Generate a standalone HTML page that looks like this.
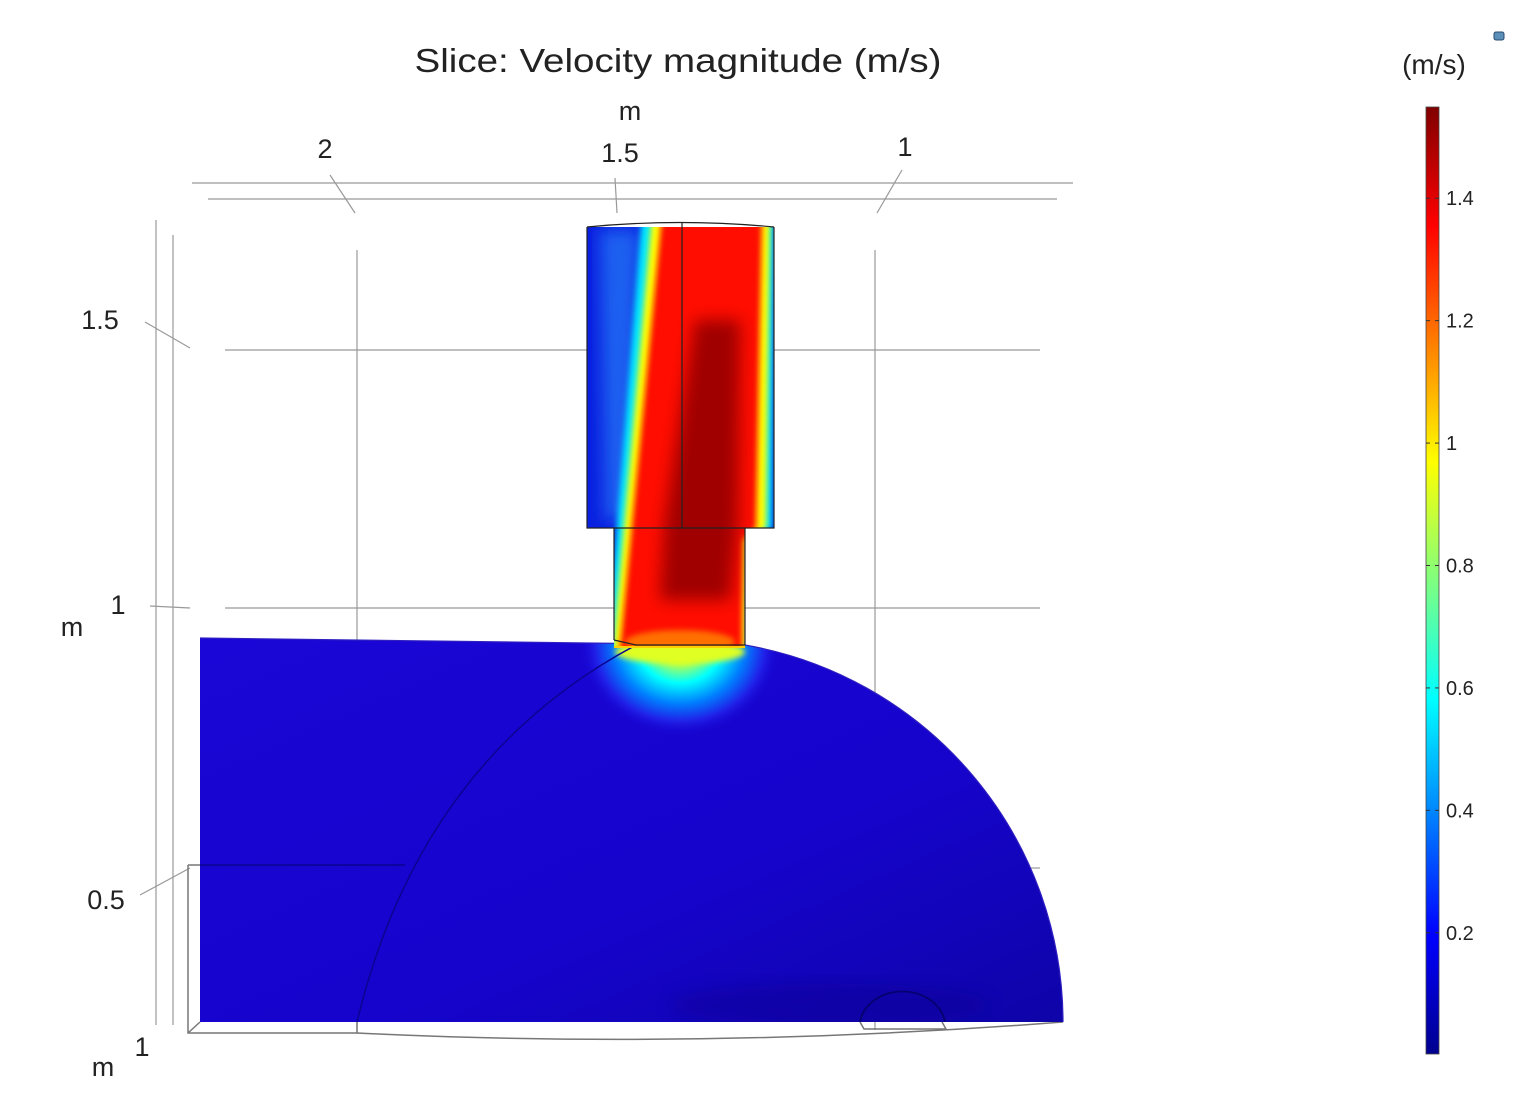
<!DOCTYPE html>
<html><head><meta charset="utf-8"><style>
html,body{margin:0;padding:0;background:#fff;}
svg{display:block;font-family:"Liberation Sans","DejaVu Sans",sans-serif;}
</style></head><body>
<svg id="chart" width="1533" height="1100" viewBox="0 0 1533 1100">
<defs>
  <linearGradient id="jet" x1="0" y1="1" x2="0" y2="0">
    <stop offset="0" stop-color="#00008f"/>
    <stop offset="0.125" stop-color="#0000ff"/>
    <stop offset="0.375" stop-color="#00ffff"/>
    <stop offset="0.625" stop-color="#ffff00"/>
    <stop offset="0.875" stop-color="#ff0000"/>
    <stop offset="1" stop-color="#800000"/>
  </linearGradient>
  <radialGradient id="glow" cx="680" cy="645" r="100" gradientUnits="userSpaceOnUse" gradientTransform="translate(680 645) scale(1 0.9) translate(-680 -645)">
    <stop offset="0" stop-color="#ffff00"/>
    <stop offset="0.2" stop-color="#c0ff40"/>
    <stop offset="0.42" stop-color="#00ffff"/>
    <stop offset="0.65" stop-color="#0080ff"/>
    <stop offset="0.85" stop-color="#2020e8"/>
    <stop offset="1" stop-color="#1a08d8" stop-opacity="0"/>
  </radialGradient>
  <linearGradient id="bodyShade" x1="0" y1="0" x2="1" y2="1">
    <stop offset="0" stop-color="#1a06d6"/>
    <stop offset="0.6" stop-color="#1604cc"/>
    <stop offset="1" stop-color="#0e04a8"/>
  </linearGradient>
  <clipPath id="pipeClip">
    <path d="M587 227 L774 227 L774 528 L745 528 L745 648 L614 648 L614 528 L587 528 Z"/>
  </clipPath>
  <clipPath id="bodyClip">
    <path d="M200 638 L745 645 A383 383 0 0 1 1063 1022 L200 1022 Z"/>
  </clipPath>
  <filter id="blur8" x="-20%" y="-20%" width="140%" height="140%"><feGaussianBlur stdDeviation="8"/></filter>
  <filter id="blur3" x="-20%" y="-20%" width="140%" height="140%"><feGaussianBlur stdDeviation="3"/></filter>
</defs>

<text x="678" y="72" font-size="33" text-anchor="middle" textLength="527" lengthAdjust="spacingAndGlyphs" fill="#222">Slice: Velocity magnitude (m/s)</text>

<g stroke="#999" stroke-width="1.2" fill="none">
  <line x1="192" y1="183" x2="1073" y2="183"/>
  <line x1="208" y1="199" x2="1057" y2="199"/>
  <line x1="156" y1="220" x2="156" y2="1025"/>
  <line x1="173" y1="235" x2="173" y2="1025"/>
  <line x1="225" y1="350" x2="1040" y2="350"/>
  <line x1="225" y1="608" x2="1040" y2="608"/>
  <line x1="1030" y1="868" x2="1040" y2="868"/>
  <line x1="357" y1="250" x2="357" y2="1030"/>
  <line x1="875" y1="250" x2="875" y2="1030"/>
  <line x1="330" y1="175" x2="355" y2="213"/>
  <line x1="615" y1="178" x2="617" y2="213"/>
  <line x1="902" y1="170" x2="877" y2="213"/>
  <line x1="145" y1="322" x2="190" y2="348"/>
  <line x1="150" y1="606" x2="190" y2="608"/>
  <line x1="140" y1="895" x2="190" y2="868"/>
</g>
<g font-size="27" fill="#222">
  <text x="630" y="120" text-anchor="middle">m</text>
  <text x="325" y="158" text-anchor="middle">2</text>
  <text x="620" y="162" text-anchor="middle">1.5</text>
  <text x="905" y="156" text-anchor="middle">1</text>
  <text x="100" y="329" text-anchor="middle">1.5</text>
  <text x="118" y="614" text-anchor="middle">1</text>
  <text x="72" y="636" text-anchor="middle">m</text>
  <text x="106" y="909" text-anchor="middle">0.5</text>
  <text x="142" y="1056" text-anchor="middle">1</text>
  <text x="103" y="1076" text-anchor="middle">m</text>
</g>

<g stroke="#777" stroke-width="1.5" fill="none">
  <path d="M188 865 L188 1033 L357 1033 L357 1022"/>
  <line x1="188" y1="1033" x2="200" y2="1022"/>
  <path d="M357 1033 Q700 1050 1063 1022"/>
  <path d="M860 1022 L864 1029 L946 1029 L942 1022"/>
  <line x1="188" y1="865" x2="200" y2="865"/>
</g>

<g>
  <path d="M200 638 L745 645 A383 383 0 0 1 1063 1022 L200 1022 Z" fill="url(#bodyShade)"/>
  <g clip-path="url(#bodyClip)">
    <ellipse cx="830" cy="1005" rx="160" ry="22" fill="#0a0290" opacity="0.4" filter="url(#blur8)"/>
    <ellipse cx="680" cy="645" rx="100" ry="90" fill="url(#glow)"/>
    <ellipse cx="680" cy="652" rx="65" ry="12" fill="#e0ff20" filter="url(#blur3)"/>
    <path d="M200 865 L405 865" stroke="#0a0490" stroke-width="1.5"/>
    <path d="M636 645 Q420 760 357 1022" stroke="#0a0490" stroke-width="1.5" fill="none"/>
    <path d="M860 1022 A43 36 0 0 1 945 1022" stroke="#050270" stroke-width="1.8" fill="none"/>
  </g>
  <path d="M200 638 L745 645 A383 383 0 0 1 1063 1022" fill="none" stroke="#3020c0" stroke-width="1.2"/>
</g>

<g>
  <g clip-path="url(#pipeClip)">
    <rect x="580" y="220" width="200" height="440" fill="#0a20e0"/>
    <polygon points="600,230 640,230 628,520 605,520" fill="#1a60f0" filter="url(#blur8)"/>
    <polygon points="642,215 774,215 772,528 750,540 748,660 606,660" fill="#00e8ff" filter="url(#blur3)"/>
    <polygon points="652,215 770,215 766,528 747,540 746,660 612,660" fill="#ffff00" filter="url(#blur3)"/>
    <polygon points="662,215 762,215 756,528 743,540 742,660 619,660" fill="#ff1000" filter="url(#blur3)"/>
    <polygon points="695,320 740,320 738,520 730,600 660,600 665,520" fill="#a00000" filter="url(#blur8)"/>
    <ellipse cx="680" cy="642" rx="55" ry="12" fill="#ff7000" filter="url(#blur3)"/>
    <rect x="614" y="646" width="131" height="4" fill="#ffd000"/>
  </g>
  <g stroke="#222" stroke-width="1.2" fill="none">
    <path d="M587 227 L587 528 L774 528 L774 227"/>
    <path d="M587 227 Q680 218 774 227"/>
    <line x1="682" y1="222" x2="682" y2="528"/>
    <path d="M614 528 L614 640 M745 528 L745 645"/>
    <path d="M614 640 L636 645 L745 645"/>
  </g>
</g>

<text x="1434" y="74" font-size="28" text-anchor="middle" fill="#222">(m/s)</text>
<rect x="1494" y="32" width="10" height="8" rx="2" fill="#5a8fb8" stroke="#2a4a70"/>
<rect id="cbar" x="1426" y="107" width="13" height="947" fill="url(#jet)" stroke="#444" stroke-width="0.8"/>
<g id="cticks"></g>

<script>
const tickValues = [0.2, 0.4, 0.6, 0.8, 1.0, 1.2, 1.4];
const tickLabels = ["0.2", "0.4", "0.6", "0.8", "1", "1.2", "1.4"];
const colorMin = 0.002;
const colorMax = 1.549;
const cbTop = 107, cbBottom = 1054;
function yScale(v){ return cbBottom - (v - colorMin) / (colorMax - colorMin) * (cbBottom - cbTop); }
const g = document.getElementById('cticks');
const NS = 'http://www.w3.org/2000/svg';
tickValues.forEach((v, i) => {
  const y = yScale(v);
  const t = document.createElementNS(NS, 'line');
  t.setAttribute('x1', 1426); t.setAttribute('x2', 1430);
  t.setAttribute('y1', y); t.setAttribute('y2', y);
  t.setAttribute('stroke', '#333');
  
  
  g.appendChild(t);
  const t2 = document.createElementNS(NS, 'line');
  t2.setAttribute('x1', 1435); t2.setAttribute('x2', 1439);
  t2.setAttribute('y1', y); t2.setAttribute('y2', y);
  t2.setAttribute('stroke', '#333');
  
  
  g.appendChild(t2);
  const tx = document.createElementNS(NS, 'text');
  tx.setAttribute('x', 1446); tx.setAttribute('y', y + 7);
  tx.setAttribute('font-size', '20'); tx.setAttribute('fill', '#222');
  tx.textContent = tickLabels[i];
  
  
  g.appendChild(tx);
});
</script>
</svg>
</body></html>
